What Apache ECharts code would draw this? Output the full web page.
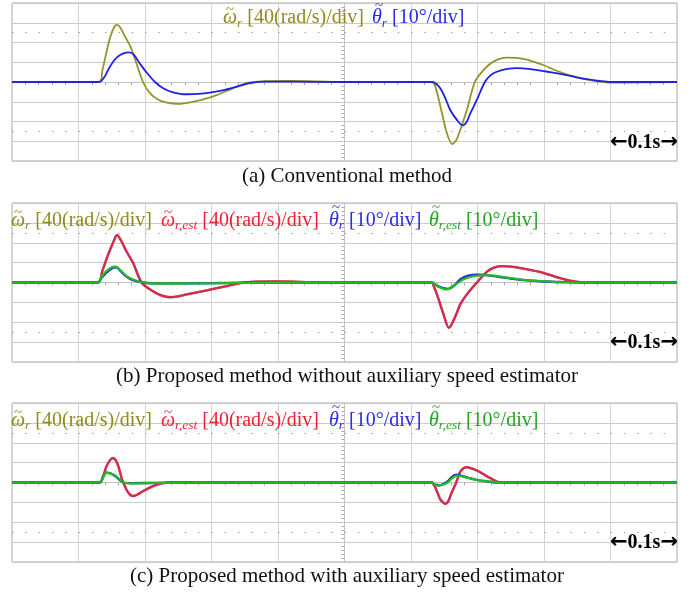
<!DOCTYPE html>
<html><head><meta charset="utf-8">
<script src="https://cdn.jsdelivr.net/npm/echarts@6/dist/echarts.min.js"></script>
<style>html,body{margin:0;padding:0;background:#fff}#c{width:700px;height:593px}</style>
</head><body><div id="c"></div><script>
// time in divisions (0..10, 1 div = 0.1 s), value in divisions (-4..4)
const a_wr = [[0,0],[1.31,0],[1.36,0.6],[1.42,1.5],[1.48,2.3],[1.54,2.8],[1.58,2.89],[1.63,2.75],[1.70,2.3],[1.78,1.8],[1.87,0.95],[1.97,0],[2.07,-0.55],[2.2,-0.9],[2.33,-1.05],[2.5,-1.11],[2.7,-1.02],[2.9,-0.85],[3.08,-0.66],[3.32,-0.32],[3.55,-0.03],[3.8,0.04],[4.2,0.06],[4.6,0.03],[5,0],[6.32,0],[6.38,-0.4],[6.44,-1.2],[6.54,-2.6],[6.62,-3.14],[6.68,-2.95],[6.74,-2.43],[6.84,-1.42],[6.96,0],[7.09,0.6],[7.24,1.03],[7.44,1.23],[7.69,1.17],[7.99,0.86],[8.19,0.57],[8.49,0.24],[8.79,0.05],[9.0,-0.03],[9.5,-0.02],[10,0]];
const a_thr = [[0,0],[1.31,0],[1.38,0.2],[1.46,0.7],[1.55,1.15],[1.63,1.38],[1.70,1.48],[1.75,1.5],[1.82,1.42],[1.92,0.95],[2.02,0.5],[2.15,0],[2.28,-0.33],[2.42,-0.53],[2.55,-0.61],[2.63,-0.62],[2.8,-0.6],[3.0,-0.52],[3.2,-0.4],[3.4,-0.22],[3.6,-0.05],[3.8,0.02],[4.2,0.02],[5,0],[6.32,0],[6.38,-0.1],[6.44,-0.32],[6.52,-0.85],[6.59,-1.42],[6.69,-1.92],[6.78,-2.2],[6.84,-2.0],[6.89,-1.6],[6.99,-0.91],[7.11,0],[7.2,0.35],[7.29,0.52],[7.45,0.66],[7.59,0.7],[7.8,0.65],[8.09,0.5],[8.34,0.35],[8.59,0.17],[8.84,0.05],[9.0,0],[10,0]];

const b_wr = [[0,0],[1.29,0],[1.36,0.6],[1.44,1.35],[1.52,2.02],[1.58,2.4],[1.65,2.05],[1.72,1.57],[1.82,0.99],[1.95,0],[2.12,-0.44],[2.25,-0.66],[2.38,-0.75],[2.5,-0.7],[2.63,-0.6],[2.93,-0.39],[3.23,-0.18],[3.43,-0.03],[3.6,0.03],[4.0,0.05],[4.5,0.02],[5,0],[6.31,0],[6.35,-0.25],[6.39,-0.6],[6.49,-1.61],[6.57,-2.28],[6.62,-2.05],[6.69,-1.52],[6.74,-1.1],[6.84,-0.6],[6.99,0],[7.14,0.54],[7.25,0.75],[7.38,0.82],[7.5,0.8],[7.69,0.7],[7.99,0.49],[8.19,0.27],[8.39,0.1],[8.55,0.02],[8.8,0],[10,0]];
const b_wrEst = [[0,0],[1.29,0],[1.36,0.6],[1.44,1.35],[1.52,2.0],[1.58,2.38],[1.65,2.05],[1.72,1.57],[1.82,0.99],[1.95,0],[2.12,-0.44],[2.25,-0.65],[2.38,-0.74],[2.5,-0.7],[2.63,-0.6],[2.93,-0.39],[3.23,-0.18],[3.43,-0.03],[3.6,0.03],[4.0,0.05],[4.5,0.02],[5,0],[6.31,0],[6.35,-0.25],[6.39,-0.6],[6.49,-1.61],[6.57,-2.28],[6.62,-2.05],[6.69,-1.52],[6.74,-1.1],[6.84,-0.6],[6.99,0],[7.14,0.54],[7.25,0.75],[7.38,0.82],[7.5,0.8],[7.69,0.7],[7.99,0.49],[8.19,0.27],[8.39,0.1],[8.55,0.02],[8.8,0],[10,0]];
const b_thr = [[0,0],[1.29,0],[1.35,0.25],[1.42,0.5],[1.52,0.74],[1.57,0.76],[1.62,0.62],[1.72,0.3],[1.82,0.12],[1.97,0],[2.1,-0.04],[2.5,-0.04],[3.0,-0.03],[3.5,-0.01],[4,0],[6.31,0],[6.4,-0.18],[6.5,-0.3],[6.56,-0.32],[6.65,-0.15],[6.74,0.15],[6.85,0.33],[6.99,0.4],[7.1,0.38],[7.3,0.3],[7.5,0.2],[7.7,0.12],[8.0,0.05],[8.3,0.02],[8.6,0],[10,0]];
const b_thrEst = [[0,0],[1.29,0],[1.35,0.3],[1.42,0.57],[1.52,0.79],[1.56,0.8],[1.62,0.65],[1.72,0.32],[1.82,0.15],[1.97,0],[2.1,-0.05],[2.5,-0.05],[3.0,-0.04],[3.5,-0.02],[4,0],[6.31,0],[6.4,-0.2],[6.5,-0.33],[6.54,-0.35],[6.62,-0.2],[6.7,-0.03],[6.78,0.15],[6.9,0.3],[7.0,0.35],[7.14,0.37],[7.3,0.32],[7.5,0.22],[7.7,0.13],[7.9,0.08],[8.19,0.02],[8.5,0],[10,0]];

const c_wr = [[0,0],[1.32,0],[1.37,0.3],[1.42,0.8],[1.48,1.14],[1.52,1.22],[1.56,1.1],[1.6,0.8],[1.65,0.2],[1.68,-0.05],[1.72,-0.35],[1.77,-0.6],[1.82,-0.68],[1.88,-0.62],[1.97,-0.44],[2.12,-0.18],[2.27,-0.03],[2.4,0],[6.31,0],[6.35,-0.15],[6.39,-0.44],[6.44,-0.85],[6.49,-1.02],[6.52,-1.06],[6.56,-0.95],[6.61,-0.52],[6.68,0],[6.74,0.54],[6.79,0.72],[6.84,0.76],[6.9,0.72],[6.99,0.6],[7.14,0.32],[7.29,0.05],[7.4,0],[10,0]];
const c_wrEst = [[0,0],[1.32,0],[1.37,0.3],[1.42,0.82],[1.48,1.15],[1.52,1.24],[1.56,1.12],[1.6,0.82],[1.65,0.2],[1.68,-0.05],[1.72,-0.35],[1.77,-0.6],[1.82,-0.69],[1.88,-0.62],[1.97,-0.44],[2.12,-0.18],[2.27,-0.03],[2.4,0],[6.31,0],[6.35,-0.15],[6.39,-0.44],[6.44,-0.85],[6.49,-1.02],[6.52,-1.07],[6.56,-0.95],[6.61,-0.52],[6.68,0],[6.74,0.54],[6.79,0.72],[6.84,0.77],[6.9,0.72],[6.99,0.6],[7.14,0.32],[7.29,0.05],[7.4,0],[10,0]];
const c_thr = [[0,0],[1.32,0],[1.37,0.28],[1.42,0.5],[1.47,0.48],[1.55,0.33],[1.62,0.12],[1.67,0],[1.8,-0.03],[2.2,-0.02],[3,0],[6.31,0],[6.36,-0.1],[6.41,-0.14],[6.47,-0.1],[6.55,0.05],[6.62,0.3],[6.68,0.4],[6.75,0.35],[6.85,0.25],[7.0,0.12],[7.2,0.03],[7.3,0],[10,0]];
const c_thrEst = [[0,0],[1.32,0],[1.37,0.25],[1.42,0.49],[1.48,0.45],[1.55,0.35],[1.62,0.15],[1.67,0],[1.8,-0.04],[2.2,-0.02],[3,0],[6.31,0],[6.36,-0.1],[6.41,-0.15],[6.47,-0.12],[6.55,0],[6.62,0.22],[6.69,0.35],[6.78,0.3],[6.9,0.2],[7.05,0.1],[7.2,0.04],[7.3,0],[10,0]];

const captions = ['(a) Conventional method','(b) Proposed method without auxiliary speed estimator','(c) Proposed method with auxiliary speed estimator'];
const scaleText = '0.1s';
const lblW = ' [40(rad/s)/div]';
const lblT = ' [10\u00b0/div]';

const SERIF = '"Liberation Serif","DejaVu Serif",serif';
const OLIVE = '#94942a', OLIVE_T = '#8c8c1c';
const BLUE = '#2020e6', BLUE_T = '#2a2ae8';
const RED = '#d8285a', RED_T = '#ee2233';
const GREEN = '#22bb22', GREEN_T = '#26a326';

const panels = [
  {top:3, height:158, series:[[a_wr,OLIVE],[a_thr,BLUE]], width:1.8},
  {top:203, height:159, series:[[b_wr,OLIVE],[b_wrEst,RED],[b_thr,BLUE],[b_thrEst,GREEN]], width:2.3},
  {top:403, height:159, series:[[c_wr,OLIVE],[c_wrEst,RED],[c_thr,BLUE],[c_thrEst,GREEN]], width:2.3}
];

const grid=[], xAxis=[], yAxis=[], series=[];
panels.forEach((p,i)=>{
  grid.push({left:12, width:665, top:p.top, height:p.height, show:true, borderColor:'#a8a8a8', borderWidth:1, backgroundColor:'transparent'});
  xAxis.push({gridIndex:i, type:'value', min:0, max:10, interval:1,
    axisLabel:{show:false}, axisTick:{show:false},
    minorTick:{show:true, splitNumber:5, length:3, lineStyle:{color:'#aaa'}},
    axisLine:{show:true, onZero:true, lineStyle:{color:'#c4c4c4'}},
    splitLine:{show:true, lineStyle:{color:'#d4d4d4'}}});
  yAxis.push({gridIndex:i, type:'value', min:-4, max:4, interval:1,
    axisLabel:{show:false}, axisTick:{show:false}, axisLine:{show:false},
    splitLine:{show:true, lineStyle:{color:'#cacaca'}}});
  yAxis.push({gridIndex:i, type:'value', min:-4, max:4, interval:1, position:'left', offset:-332.5,
    axisLabel:{show:false}, axisTick:{show:false},
    minorTick:{show:true, splitNumber:5, length:3, lineStyle:{color:'#aaa'}},
    axisLine:{show:true, onZero:false, lineStyle:{color:'#c4c4c4'}},
    splitLine:{show:false}});
  p.series.forEach((s,k)=>{
    const ser = {type:'line', xAxisIndex:i, yAxisIndex:2*i, data:s[0], showSymbol:false, smooth:0.3,
      lineStyle:{color:s[1], width:p.width}, itemStyle:{color:s[1]}, animation:false, z:3+k};
    if(k===0){
      ser.markLine = {silent:true, symbol:'none', label:{show:false}, animation:false,
        lineStyle:{color:'#a0a0a0', width:1.2, type:[1.5,11.8]},
        data:[{yAxis:2.5},{yAxis:-2.5}]};
    }
    series.push(ser);
  });
});

const graphic=[];
function addLegend(x, cy, color, sym, sub, rest, tdx, tdy){
  graphic.push({type:'text', x:x, y:cy, z:100, style:{
    text: '{m|'+sym+'}{s|'+sub+'}{t|'+rest+'}', fill:color,
    verticalAlign:'middle', textVerticalAlign:'middle',
    rich: {
      m:{fontFamily:SERIF, fontStyle:'italic', fontSize:20, fill:color, lineHeight:24},
      s:{fontFamily:SERIF, fontStyle:'italic', fontSize:13.5, fill:color, lineHeight:14, verticalAlign:'bottom'},
      t:{fontFamily:SERIF, fontSize:20, fill:color, lineHeight:24}
    }}});
  graphic.push({type:'text', x:x+tdx, y:cy+tdy, z:101, style:{text:'~', font:'15px '+SERIF, fill:color,
    align:'center', verticalAlign:'middle', textAlign:'center', textVerticalAlign:'middle'}});
}
const W='\u03c9', TH='\u03b8';
addLegend(223, 18, OLIVE_T, W, 'r', lblW, 7, -7.5);
addLegend(372, 18, BLUE_T, TH, 'r', lblT, 7, -12);
[220.5, 420.5].forEach(y=>{
  addLegend(11, y, OLIVE_T, W, 'r', lblW, 7, -7.5);
  addLegend(161, y, RED_T, W, 'r,est', lblW, 7, -7.5);
  addLegend(329, y, BLUE_T, TH, 'r', lblT, 7, -12);
  addLegend(429, y, GREEN_T, TH, 'r,est', lblT, 7, -12);
});
[176.5, 376.5, 576.5].forEach((y,i)=>{
  graphic.push({type:'text', x:347, y:y, z:100, style:{text:captions[i], font:'21px '+SERIF, fill:'#111',
    align:'center', verticalAlign:'middle', textAlign:'center', textVerticalAlign:'middle'}});
});
[143, 342.5, 542.5].forEach(y=>{
  graphic.push({type:'text', x:678, y:y, z:100, style:{
    text:'{a|\u2190}{t|'+scaleText+'}{a|\u2192}', fill:'#000',
    align:'right', verticalAlign:'middle', textAlign:'right', textVerticalAlign:'middle',
    rich:{
      a:{fontFamily:'"DejaVu Sans"', fontWeight:'bold', fontSize:21, fill:'#000'},
      t:{fontFamily:SERIF, fontWeight:'bold', fontSize:20, fill:'#000'}
    }}});
});

const chart = echarts.init(document.getElementById('c'), null, {renderer:'canvas'});
chart.setOption({animation:false, backgroundColor:'#fff', grid, xAxis, yAxis, series, graphic});
</script></body></html>
